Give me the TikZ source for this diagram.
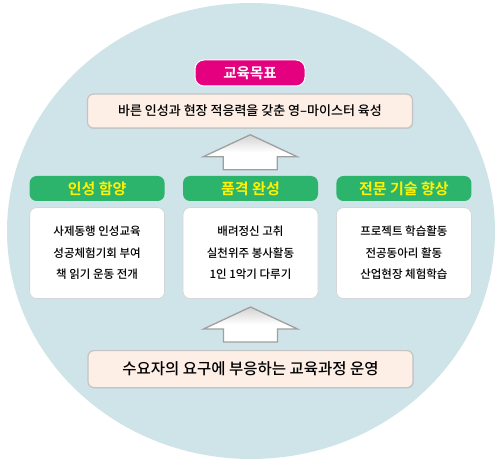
\documentclass[tikz,border=0pt]{standalone}
\usepackage{fontspec}
\setmainfont{Noto Sans CJK KR Medium}
\newfontfamily\krbold{Noto Sans CJK KR Bold}
\usepackage{tikz}
\usetikzlibrary{positioning,calc,shadows}
\usepackage{xcolor}
\definecolor{Sky}{HTML}{CFE4E9}
\definecolor{Magenta}{HTML}{E4007E}
\definecolor{Leaf}{HTML}{2DB46C}
\definecolor{Lemon}{HTML}{FFF200}
\definecolor{Peach}{HTML}{FDEEE6}
\definecolor{Rim}{HTML}{C4C4C4}
\tikzset{
  pillbox/.style={draw=white, line width=1pt, rounded corners=9pt, fill=Magenta,
    minimum width=110pt, minimum height=26pt, inner sep=0pt,
    text=white, font=\krbold\fontsize{14.5}{15}\selectfont},
  goalbox/.style={draw=Rim, line width=1.2pt, rounded corners=6pt, fill=Peach,
    minimum width=325pt, minimum height=#1, inner sep=0pt,
    drop shadow={shadow xshift=0.6pt, shadow yshift=-0.8pt, opacity=0.25}},
  goalbox/.default={34pt},
  headbox/.style={rounded corners=7pt, fill=Leaf, minimum width=135pt,
    minimum height=25pt, inner sep=0pt, text=Lemon,
    font=\krbold\fontsize{15}{16}\selectfont},
  itembox/.style={draw=Rim!70, line width=0.8pt, rounded corners=7pt, fill=white,
    minimum width=135pt, minimum height=91pt, inner sep=0pt, align=center,
    font=\fontsize{11.5}{21.5}\selectfont},
  blockarr/.style={draw=gray!75, line width=1.3pt, top color=gray!35, bottom color=white,
    middle color=white},
}

\begin{document}
\begin{tikzpicture}[x=1pt, y=1pt]
  \useasboundingbox (0,0) rectangle (499,467);
  \fill[Sky] (251,236) ellipse [x radius=244, y radius=228];

  \node[pillbox] (target) at (250,394) {교육목표};
  \node[goalbox, below=7pt of target, font=\fontsize{13}{14}\selectfont]
    (goal) {바른 인성과 현장 적응력을 갖춘 영–마이스터 육성};

  \node[headbox] (poom) at (250.5,278.5) {품격 완성};
  \node[headbox, left=18pt of poom] (inseong) {인성 함양};
  \node[headbox, right=18pt of poom] (jeonmun) {전문 기술 향상};

  \node[itembox, below=6pt of inseong] (inseongtxt)
    {사제동행 인성교육\\성공체험기회 부여\\책 읽기 운동 전개};
  \node[itembox, below=6pt of poom] (poomtxt)
    {배려정신 고취\\실천위주 봉사활동\\1인 1악기 다루기};
  \node[itembox, below=6pt of jeonmun] (jeonmuntxt)
    {프로젝트 학습활동\\전공동아리 활동\\산업현장 체험학습};

  \node[goalbox=37pt, below=51pt of poomtxt, font=\fontsize{15.5}{16}\selectfont]
    (demand) {수요자의 요구에 부응하는 교육과정 운영};

  % block arrows between the rows
  \coordinate (up1) at ($(goal.south)!0.5!(poom.north)$);
  \coordinate (up2) at ($(poomtxt.south)!0.5!(demand.north)$);
  \foreach \c in {up1,up2}
    \draw[blockarr] ($(\c)+(0,17.5)$) -- ++(47,-22) -- ++(-20,0) -- ++(0,-13)
      -- ++(-54,0) -- ++(0,13) -- ++(-20,0) -- cycle;
\end{tikzpicture}
\end{document}
